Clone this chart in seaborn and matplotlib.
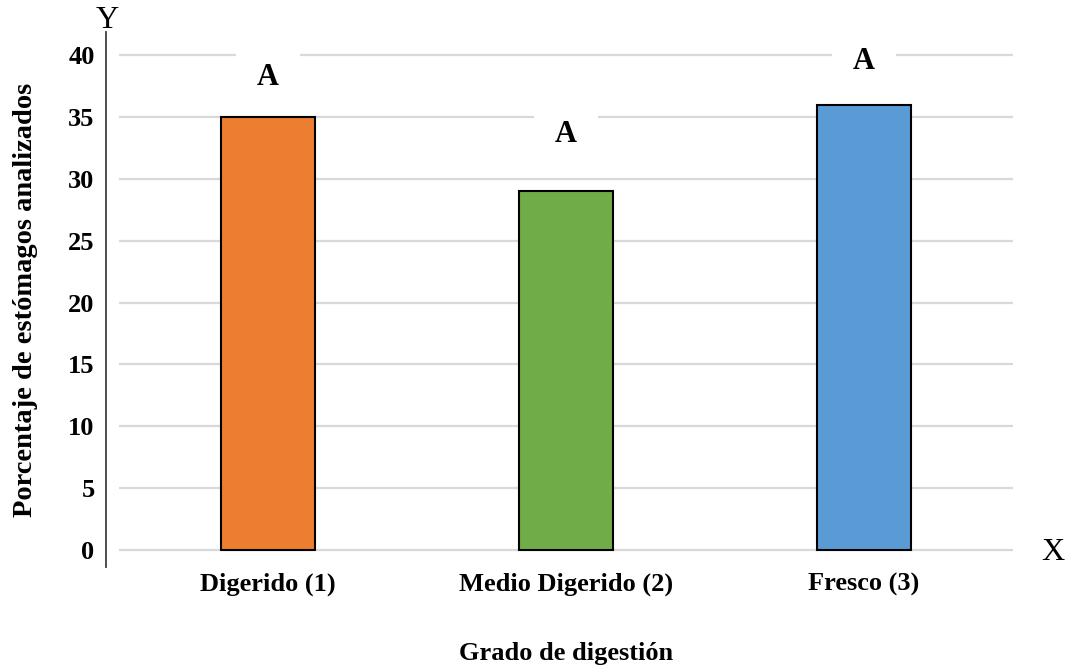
import matplotlib
matplotlib.use("Agg")
import matplotlib.pyplot as plt
import seaborn as sns
import pandas as pd

# Data
categorias = ["Digerido (1)", "Medio Digerido (2)", "Fresco (3)"]
porcentajes = [35, 29, 36]
letras = ["A", "A", "A"]
letras_y = [38.2, 33.6, 39.5]
colores = ["#ED7D31", "#70AD47", "#5B9BD5"]
y_ticks = [0, 5, 10, 15, 20, 25, 30, 35, 40]

sns.set_theme(style="white")
plt.rcParams["font.family"] = ["Liberation Serif", "DejaVu Serif"]
plt.rcParams["text.color"] = "black"
plt.rcParams["axes.labelcolor"] = "black"
plt.rcParams["xtick.color"] = "black"
plt.rcParams["ytick.color"] = "black"

df = pd.DataFrame({"grado": categorias, "pct": porcentajes})

fig = plt.figure(figsize=(10.76, 6.66), dpi=100)
ax = fig.add_axes([0.1105, 0.1486, 0.831, 0.8034])

sns.barplot(data=df, x="grado", y="pct", hue="grado", palette=colores,
            saturation=1, legend=False, width=0.315, edgecolor="black",
            linewidth=1.5, ax=ax, zorder=3)

ax.set_xlim(-0.5, 2.5)
ax.set_ylim(-1.4, 41.9)
ax.set_yticks(y_ticks)
ax.grid(axis="y", color="#d9d9d9", linewidth=1.6, zorder=0)
ax.set_axisbelow(True)

for s in ["top", "right", "bottom"]:
    ax.spines[s].set_visible(False)
ax.spines["left"].set_position(("outward", 9.5))
ax.spines["left"].set_color("#404040")
ax.spines["left"].set_linewidth(1.3)

ax.tick_params(axis="y", length=0, pad=8, labelsize=19)
ax.tick_params(axis="x", length=0, pad=4, labelsize=19)
for lab in ax.get_xticklabels() + ax.get_yticklabels():
    lab.set_fontweight("bold")

ax.set_xlabel("Grado de digestión", fontsize=19, fontweight="bold", labelpad=33)
ax.set_ylabel("Porcentaje de estómagos analizados", fontsize=20.5,
              fontweight="bold", labelpad=22)

# Significance letters above the bars, on white boxes over the grid
for i, (letra, yv) in enumerate(zip(letras, letras_y)):
    ax.text(i, yv, letra, ha="center", va="center", fontsize=22,
            fontweight="bold", zorder=4,
            bbox=dict(boxstyle="square,pad=0.7", facecolor="white",
                      edgecolor="none"))

# Axis name markers
fig.text(107 / 1076, 1 - 20 / 666, "Y", ha="center", va="center", fontsize=23)
fig.text(1053 / 1076, 1 - 553 / 666, "X", ha="center", va="center", fontsize=23)

fig.savefig("out.png", dpi=100)
